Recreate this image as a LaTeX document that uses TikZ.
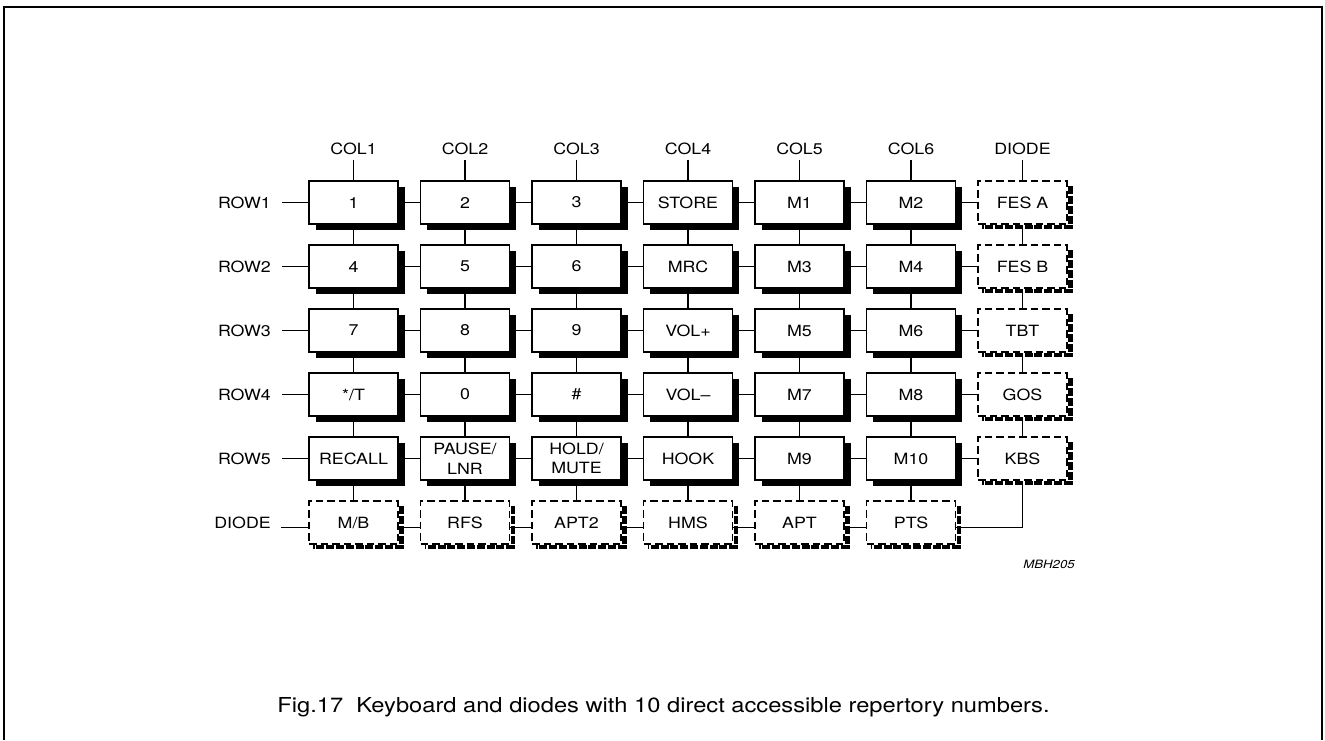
\documentclass[tikz,border=0pt]{standalone}
\usepackage{fontspec}
\setmainfont{TeX Gyre Heros}[FakeStretch=1.15]
\usetikzlibrary{shadows,backgrounds}
\newcommand\kbfont{\fontsize{15.5}{19.5}\selectfont}
\newcommand\capfont{\fontsize{20.6}{25}\selectfont}
\newcommand\tagfont{\fontsize{11.5}{14}\selectfont\itshape}
\begin{document}
\begin{tikzpicture}[x=1pt,y=-1pt,
  key/.style={draw, line width=1.7pt, fill=white, minimum width=89pt, minimum height=43pt,
    inner sep=0pt, font=\kbfont, align=center,
    drop shadow={shadow xshift=6.5pt, shadow yshift=-6pt, fill=black, draw=none, opacity=1}},
  dkey/.style={draw, line width=1.6pt, dash pattern=on 7.5pt off 4pt, fill=white,
    minimum width=89pt, minimum height=43pt, inner sep=0pt, font=\kbfont, align=center},
  lab/.style={font=\kbfont, inner sep=0pt},
  wire/.style={line width=1.6pt},
  dshadow/.style={line width=4.5pt, dash pattern=on 8pt off 1.8pt},
  frame/.style={line width=2.5pt}]
\useasboundingbox (0,0) rectangle (1325,740);
\draw[frame] (4,740) -- (4,7) -- (1322,7) -- (1322,740);

% column labels
\foreach \t [count=\c] in {COL1,COL2,COL3,COL4,COL5,COL6,DIODE}
  \node[lab, anchor=base] (cl-\c) at ({353.5+111.5*(\c-1)}, 154.5) {\t};
% row labels
\foreach \t [count=\r] in {ROW1,ROW2,ROW3,ROW4,ROW5,DIODE}
  \node[lab, anchor=east] (rl-\r) at (271, {202.5+64*(\r-1)}) {\t};

% keys
\foreach \t [count=\c] in {1,2,3,STORE,M1,M2}
  \node[key] (k-1-\c) at ({353.5+111.5*(\c-1)}, 202.5) {\t};
\foreach \t [count=\c] in {4,5,6,MRC,M3,M4}
  \node[key] (k-2-\c) at ({353.5+111.5*(\c-1)}, 266.5) {\t};
\foreach \t [count=\c] in {7,8,9,VOL+,M5,M6}
  \node[key] (k-3-\c) at ({353.5+111.5*(\c-1)}, 330.5) {\t};
\foreach \t [count=\c] in {*/T,0,\#,VOL–,M7,M8}
  \node[key] (k-4-\c) at ({353.5+111.5*(\c-1)}, 394.5) {\t};
\foreach \t [count=\c] in {RECALL,{PAUSE/\\LNR},{HOLD/\\MUTE},HOOK,M9,M10}
  \node[key] (k-5-\c) at ({353.5+111.5*(\c-1)}, 458.5) {\t};

% diode column
\foreach \t [count=\r] in {FES A,FES B,TBT,GOS,KBS}
  \node[dkey] (d-\r) at (1022.5, {202.5+64*(\r-1)}) {\t};
% diode row
\foreach \t [count=\c] in {M/B,RFS,APT2,HMS,APT,PTS}
  \node[dkey] (e-\c) at ({353.5+111.5*(\c-1)}, 522.5) {\t};

% dashed shadows
\foreach \n in {d-1,d-2,d-3,d-4,d-5,e-1,e-2,e-3,e-4,e-5,e-6}
  \draw[dshadow] ([xshift=2.5pt,yshift=-6pt]\n.north east) -- ([xshift=2.5pt,yshift=-2pt]\n.south east)
     -- ([xshift=5pt,yshift=-2pt]\n.south west);

\node[font=\tagfont] (mbh) at (1049,564) {MBH205};
\node[font=\capfont, anchor=base] (cap) at (663.5,712)
  {Fig.17\ \ Keyboard and diodes with 10 direct accessible repertory numbers.};

\begin{pgfonlayer}{background}
  \foreach \r in {1,...,5} {
    \draw[wire] ([xshift=11pt]rl-\r.east) -- (k-\r-1.west);
    \foreach \c [evaluate=\c as \n using int(\c+1)] in {1,...,5}
      \draw[wire] (k-\r-\c.east) -- (k-\r-\n.west);
    \draw[wire] (k-\r-6.east) -- (d-\r.west);
  }
  \foreach \c in {1,...,6} {
    \draw[wire] ([yshift=-5pt]cl-\c.south) -- (k-1-\c.north);
    \foreach \r [evaluate=\r as \n using int(\r+1)] in {1,...,4}
      \draw[wire] (k-\r-\c.south) -- (k-\n-\c.north);
    \draw[wire] (k-5-\c.south) -- (e-\c.north);
  }
  \draw[wire] ([yshift=-5pt]cl-7.south) -- (d-1.north);
  \foreach \r [evaluate=\r as \n using int(\r+1)] in {1,...,4}
    \draw[wire] (d-\r.south) -- (d-\n.north);
  \draw[wire] (d-5.south) |- ([yshift=-5pt]e-6.east);
  \foreach \c [evaluate=\c as \n using int(\c+1)] in {1,...,5}
    \draw[wire] ([yshift=-5pt]e-\c.east) -- ([yshift=-5pt]e-\n.west);
  \draw[wire] ([xshift=10pt,yshift=-5pt]rl-6.east) -- ([yshift=-5pt]e-1.west);
\end{pgfonlayer}
\end{tikzpicture}
\end{document}
